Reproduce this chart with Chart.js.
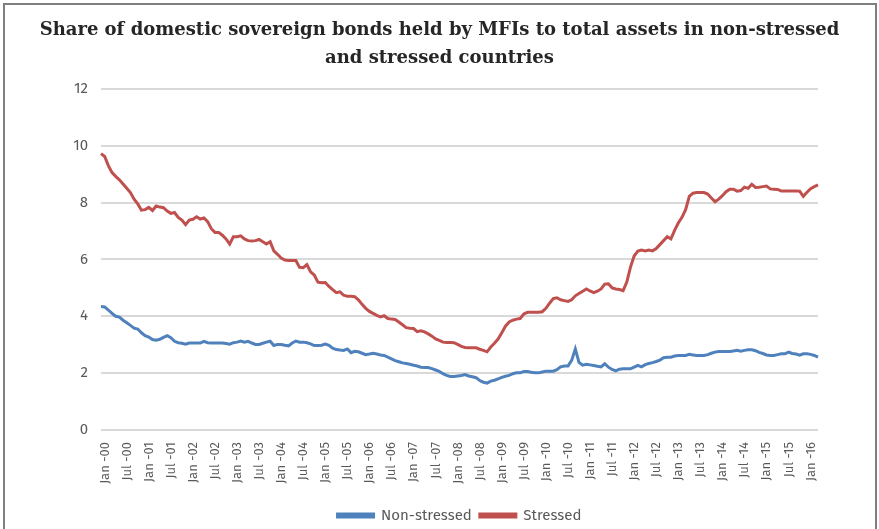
<!DOCTYPE html>
<html>
<head>
<meta charset="utf-8">
<script src="https://cdn.jsdelivr.net/npm/chart.js@4"></script>
<style>
  html, body { margin: 0; padding: 0; background: #fff; }
  #wrap { position: relative; width: 879px; height: 529px; }
  #frame { position: absolute; left: 3px; top: 3px; width: 874px; height: 540px; border: 2px solid #7f7f7f; box-sizing: border-box; }
  canvas { position: absolute; left: 0; top: 0; }
</style>
</head>
<body>
<div id="wrap">
  <div id="frame"></div>
  <canvas id="bondsChart" width="879" height="529"></canvas>
</div>
<script>
const monthNames = ["Jan", "Feb", "Mar", "Apr", "May", "Jun", "Jul", "Aug", "Sep", "Oct", "Nov", "Dec"];
const firstYear = 2000;
const monthCount = 196; // Jan 2000 .. Apr 2016

const nonStressed = [
    4.34, 4.33, 4.22, 4.10, 4.00, 3.97, 3.86, 3.77, 3.68, 3.58, 3.55, 3.42,
    3.32, 3.27, 3.18, 3.16, 3.19, 3.26, 3.32, 3.25, 3.12, 3.07, 3.05, 3.02,
    3.06, 3.06, 3.06, 3.06, 3.12, 3.07, 3.06, 3.06, 3.06, 3.06, 3.04, 3.02,
    3.07, 3.09, 3.13, 3.09, 3.12, 3.06, 3.01, 3.01, 3.05, 3.09, 3.12, 2.97,
    3.01, 3.01, 2.98, 2.96, 3.06, 3.13, 3.09, 3.09, 3.07, 3.03, 2.97, 2.97,
    2.98, 3.02, 2.98, 2.88, 2.83, 2.81, 2.80, 2.85, 2.72, 2.77, 2.75, 2.70,
    2.65, 2.67, 2.70, 2.67, 2.64, 2.62, 2.56, 2.50, 2.44, 2.40, 2.36, 2.34,
    2.31, 2.28, 2.25, 2.21, 2.20, 2.20, 2.16, 2.11, 2.06, 1.98, 1.92, 1.88,
    1.88, 1.90, 1.92, 1.95, 1.90, 1.87, 1.84, 1.74, 1.68, 1.65, 1.72, 1.75,
    1.80, 1.85, 1.89, 1.92, 1.98, 2.01, 2.01, 2.06, 2.06, 2.03, 2.01, 2.01,
    2.04, 2.07, 2.07, 2.07, 2.12, 2.22, 2.25, 2.25, 2.45, 2.85, 2.38, 2.28,
    2.31, 2.29, 2.27, 2.24, 2.22, 2.33, 2.21, 2.13, 2.08, 2.14, 2.15, 2.15,
    2.15, 2.21, 2.27, 2.22, 2.30, 2.34, 2.37, 2.41, 2.46, 2.54, 2.56, 2.56,
    2.60, 2.62, 2.62, 2.62, 2.66, 2.64, 2.62, 2.62, 2.62, 2.65, 2.70, 2.74,
    2.76, 2.76, 2.76, 2.76, 2.78, 2.80, 2.77, 2.80, 2.82, 2.82, 2.79, 2.73,
    2.69, 2.64, 2.62, 2.62, 2.65, 2.68, 2.68, 2.74, 2.69, 2.67, 2.63, 2.68,
    2.68, 2.66, 2.62, 2.56
];

const stressed = [
    9.72, 9.62, 9.30, 9.05, 8.92, 8.80, 8.65, 8.50, 8.35, 8.12, 7.95, 7.73,
    7.75, 7.83, 7.72, 7.88, 7.84, 7.82, 7.70, 7.62, 7.65, 7.48, 7.38, 7.22,
    7.38, 7.41, 7.50, 7.42, 7.46, 7.33, 7.08, 6.95, 6.95, 6.85, 6.72, 6.54,
    6.80, 6.80, 6.83, 6.72, 6.66, 6.65, 6.66, 6.70, 6.62, 6.54, 6.62, 6.30,
    6.18, 6.05, 5.98, 5.96, 5.96, 5.96, 5.72, 5.71, 5.82, 5.56, 5.45, 5.20,
    5.18, 5.19, 5.05, 4.94, 4.83, 4.86, 4.74, 4.70, 4.70, 4.69, 4.58, 4.42,
    4.28, 4.17, 4.10, 4.03, 3.98, 4.02, 3.92, 3.90, 3.89, 3.80, 3.70, 3.60,
    3.58, 3.57, 3.46, 3.49, 3.45, 3.38, 3.30, 3.20, 3.15, 3.09, 3.08, 3.08,
    3.07, 3.01, 2.94, 2.90, 2.89, 2.89, 2.89, 2.84, 2.80, 2.75, 2.92, 3.05,
    3.20, 3.42, 3.65, 3.80, 3.86, 3.90, 3.92, 4.08, 4.14, 4.14, 4.14, 4.14,
    4.16, 4.28, 4.46, 4.62, 4.65, 4.58, 4.55, 4.52, 4.58, 4.72, 4.80, 4.88,
    4.96, 4.89, 4.83, 4.88, 4.96, 5.13, 5.14, 5.00, 4.96, 4.94, 4.90, 5.20,
    5.73, 6.12, 6.29, 6.33, 6.30, 6.33, 6.30, 6.38, 6.52, 6.66, 6.80, 6.72,
    7.02, 7.28, 7.48, 7.75, 8.22, 8.33, 8.35, 8.35, 8.35, 8.30, 8.16, 8.03,
    8.12, 8.24, 8.38, 8.47, 8.47, 8.40, 8.42, 8.54, 8.50, 8.64, 8.53, 8.54,
    8.56, 8.58, 8.48, 8.47, 8.46, 8.41, 8.41, 8.41, 8.41, 8.41, 8.40, 8.22,
    8.36, 8.49, 8.56, 8.62
];

const yTicks = [0, 2, 4, 6, 8, 10, 12];

// month labels in the "Jan -00" style, only every sixth one is shown on the axis
const labels = [];
for (let i = 0; i < monthCount; i++) {
    const yy = String((firstYear + Math.floor(i / 12)) % 100).padStart(2, "0");
    labels.push(monthNames[i % 12] + " -" + yy);
}

const sansFont = "'Fira Sans', 'Open Sans', sans-serif";

const ctx = document.getElementById("bondsChart").getContext("2d");
const bondsChart = new Chart(ctx, {
    type: "line",
    data: {
        labels: labels,
        datasets: [{
            label: "Non-stressed",
            data: nonStressed,
            borderColor: "#4f81bd",
            backgroundColor: "#4f81bd",
            borderWidth: 3,
            pointRadius: 0,
            tension: 0
        }, {
            label: "Stressed",
            data: stressed,
            borderColor: "#c0504d",
            backgroundColor: "#c0504d",
            borderWidth: 3,
            pointRadius: 0,
            tension: 0
        }]
    },
    options: {
        responsive: false,
        animation: false,
        layout: { padding: { left: 0, right: 0, top: 6, bottom: -4 } },
        plugins: {
            title: {
                display: true,
                text: ["Share of domestic sovereign bonds held by MFIs to total assets in non-stressed",
                       "and stressed countries"],
                color: "#262626",
                font: { family: "'DejaVu Serif', serif", size: 18, weight: "bold", lineHeight: 1.55 },
                padding: { top: 10, bottom: 17 }
            },
            legend: {
                position: "bottom",
                fullSize: false,
                labels: {
                    color: "#595959",
                    font: { family: sansFont, size: 15 },
                    boxWidth: 36,
                    boxHeight: 3,
                    padding: 8
                }
            },
            tooltip: { enabled: false }
        },
        scales: {
            x: {
                grid: { display: false },
                border: { display: false },
                ticks: {
                    autoSkip: false,
                    minRotation: 90,
                    maxRotation: 90,
                    color: "#595959",
                    font: { family: sansFont, size: 13 },
                    padding: 4,
                    labelOffset: 4,
                    callback: (val, i) => (i % 6 === 0 ? labels[i] : "")
                },
                afterFit: (scale) => { scale.height = 70; }
            },
            y: {
                min: 0,
                max: 12,
                afterBuildTicks: (scale) => { scale.ticks = yTicks.map(v => ({ value: v })); },
                grid: { color: "#d9d9d9", lineWidth: 2, drawTicks: false },
                border: { display: false },
                ticks: {
                    color: "#595959",
                    font: { family: sansFont, size: 15 },
                    padding: 13
                },
                afterFit: (scale) => { scale.width = 101; }
            },
            // empty right-hand margin so the title stays centred on the canvas
            spacer: {
                position: "right",
                grid: { display: false },
                border: { display: false },
                ticks: { display: false },
                afterFit: (scale) => { scale.width = 61; }
            }
        }
    }
});
</script>
</body>
</html>
